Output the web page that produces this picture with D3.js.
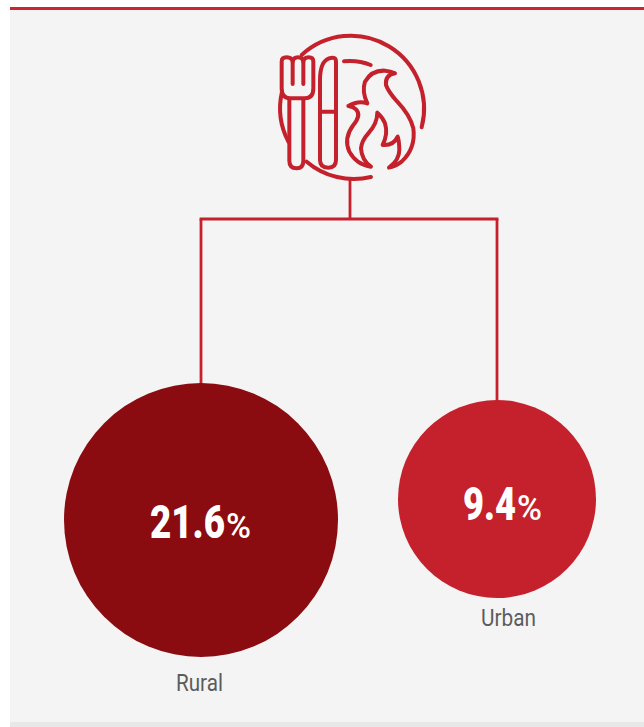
<!DOCTYPE html>
<html>
<head>
<meta charset="utf-8">
<style>
  html, body { margin: 0; padding: 0; background: #fff; overflow: hidden; }
  svg { display: block; }
</style>
<script src="https://cdn.jsdelivr.net/npm/d3@7"></script>
</head>
<body>
<div id="chart"></div>
<script>
// rural / urban bubbles hanging off an icon

const categories = ['Rural', 'Urban']
const values = [21.6, 9.4]
const valueLabels = ['21.6', '9.4']

const width = 644
const height = 727
const red = '#c4212c'
const darkRed = '#8a0b10'

const svg = d3.select('#chart').append('svg')
  .attr('width', width)
  .attr('height', height)

// panel
svg.append('rect').attr('x', 10).attr('y', 7).attr('width', width - 10).attr('height', 715).attr('fill', '#f4f4f4')
svg.append('rect').attr('x', 10).attr('y', 722).attr('width', width - 10).attr('height', 5).attr('fill', '#e8e8e8')
svg.append('rect').attr('x', 10).attr('y', 7).attr('width', width - 10).attr('height', 3).attr('fill', '#cb2630')

const x = d3.scalePoint().domain(categories).range([201, 497])
const r = d3.scaleLinear().domain([9.4, 21.6]).range([99, 137])
const cy = d3.scaleLinear().domain([9.4, 21.6]).range([499, 520])

const colorFn = d3.scaleOrdinal().domain(categories).range([darkRed, '#c4212c'])

const rows = categories.map((c, i) => ({ name: c, value: values[i], label: valueLabels[i] }))

// connector lines
const trunkY = 219
const links = svg.append('g').attr('fill', 'none').attr('stroke', red).attr('stroke-width', 2.8)
links.append('line')
  .attr('x1', 350).attr('x2', 350)
  .attr('y1', 180).attr('y2', trunkY)
links.append('line')
  .attr('x1', x('Rural') - 1.4).attr('x2', x('Urban') + 1.4)
  .attr('y1', trunkY).attr('y2', trunkY)
links.selectAll('line.drop')
  .data(rows)
  .join('line')
  .attr('class', 'drop')
  .attr('x1', d => x(d.name)).attr('x2', d => x(d.name))
  .attr('y1', trunkY)
  .attr('y2', d => cy(d.value) - r(d.value) + 1)

// bubbles
svg.append('g').selectAll('circle')
  .data(rows)
  .join('circle')
  .attr('cx', d => x(d.name))
  .attr('cy', d => cy(d.value))
  .attr('r', d => r(d.value))
  .attr('fill', d => colorFn(d.name))

// no condensed font here, so measure each text and squeeze it to the wanted width
function squeeze(sel, left, base, wanted) {
  sel.attr('transform', function (d) {
    const sx = wanted(d) / this.getComputedTextLength()
    return 'translate(' + left(d) + ',' + base(d) + ') scale(' + sx + ',1)'
  })
}

const numberWidth = { Rural: 75, Urban: 53 }
const numberLeft = { Rural: -51, Urban: -34 }
const numberDrop = { Rural: 18, Urban: 21 }

const labels = svg.append('g').attr('font-family', 'Roboto, sans-serif').attr('fill', '#fff')
labels.selectAll('text.num')
  .data(rows)
  .join('text')
  .attr('class', 'num')
  .attr('font-size', 47)
  .attr('font-weight', 900)
  .text(d => d.label)
  .call(squeeze,
    d => x(d.name) + numberLeft[d.name],
    d => cy(d.value) + numberDrop[d.name],
    d => numberWidth[d.name])

labels.selectAll('text.pct')
  .data(rows)
  .join('text')
  .attr('class', 'pct')
  .attr('font-size', 35)
  .attr('font-weight', 500)
  .text('%')
  .call(squeeze,
    d => x(d.name) + numberLeft[d.name] + numberWidth[d.name] + 1,
    d => cy(d.value) + numberDrop[d.name],
    () => 25)

// category names
const nameLeft = { Rural: -25, Urban: -16 }
const nameWide = { Rural: 47, Urban: 55 }
const nameDy = { Rural: 34, Urban: 28 }
svg.append('g').selectAll('text')
  .data(rows)
  .join('text')
  .attr('font-family', 'Roboto, sans-serif')
  .attr('font-size', 23)
  .attr('font-weight', 400)
  .attr('fill', '#5c5c5c')
  .text(d => d.name)
  .call(squeeze,
    d => x(d.name) + nameLeft[d.name],
    d => cy(d.value) + r(d.value) + nameDy[d.name],
    d => nameWide[d.name])

// plate, fork, knife and flame icon, traced at 3x
const icon = svg.append('g')
  .attr('transform', 'translate(260,20) scale(0.3333)')
  .attr('fill', 'none')
  .attr('stroke', red)
  .attr('stroke-width', 12)
  .attr('stroke-linecap', 'round')
  .attr('stroke-linejoin', 'round')

const iconPaths = [
  // plate
  'M125,105 A219,219 0 0 1 485,322',
  'M66,215 A219,219 0 0 0 85,365',
  'M140,425 A219,219 0 0 0 333,471',
  'M252,124 Q295,120 332,135',
  // fork
  'M88,238 L88,422 Q88,445 110,445 Q130,445 130,422 L130,238',
  'M98,192 L98,125 Q96,112 80,112 Q65,112 65,125 L65,205 Q65,235 90,235 L135,235 Q160,235 160,205 L160,125 Q160,112 146,112 Q132,112 130,125 L130,192',
  'M98,125 Q100,112 114,112 Q128,112 130,125',
  // knife
  'M180,180 Q180,125 207,115 Q228,108 228,125 L228,420 Q228,443 205,443 Q180,443 180,420 Z',
  'M182,275 L228,275',
  // flame
  'M265,258 Q295,240 322,250 Q305,215 315,185 Q335,150 375,152 Q392,153 405,160 Q375,165 378,195 Q385,215 410,243 Q450,285 460,325 Q468,385 425,425 Q405,440 387,443 Q418,420 418,390 Q418,365 413,350 Q400,378 368,375 Q385,340 375,310 Q368,292 352,278 Q352,310 325,340 Q305,362 303,385 Q305,420 333,440 Q290,435 268,395 Q250,355 280,315 Q305,285 288,268 Q280,260 265,258 Z'
]

icon.selectAll('path')
  .data(iconPaths)
  .join('path')
  .attr('d', d => d)
</script>
</body>
</html>
